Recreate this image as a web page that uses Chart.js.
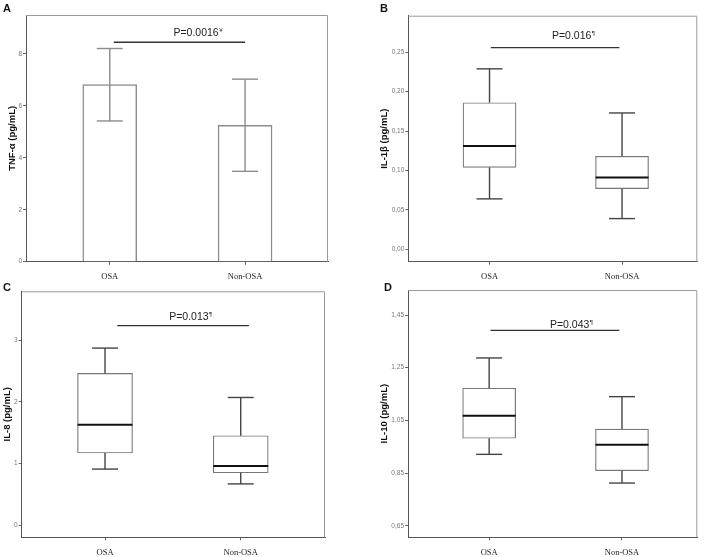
<!DOCTYPE html>
<html>
<head>
<meta charset="utf-8">
<script src="https://cdn.jsdelivr.net/npm/chart.js@4.4.1/dist/chart.umd.min.js"></script>
<style>
  body { margin: 0; background: #fff; }
  #wrap { position: relative; width: 708px; height: 557px; overflow: hidden; background: #fff; }
  #wrap canvas { position: absolute; left: 0; top: 0; }
  .tag { position: absolute; font: bold 11px "Liberation Sans", Arial, sans-serif; color: #111; line-height: 1; }
</style>
</head>
<body>
<div id="wrap">
  <canvas id="chartA" width="708" height="557"></canvas>
  <canvas id="chartB" width="708" height="557"></canvas>
  <canvas id="chartC" width="708" height="557"></canvas>
  <canvas id="chartD" width="708" height="557"></canvas>
  <div class="tag" style="left:3px;top:3px">A</div>
  <div class="tag" style="left:380px;top:3px">B</div>
  <div class="tag" style="left:3px;top:282px">C</div>
  <div class="tag" style="left:384px;top:282px">D</div>
</div>
<script>
// values
const categories = ['OSA', 'Non-OSA'];

// A: TNF-α, bar = mean, whisker = error range
const tnfMean = [6.82, 5.25];
const tnfLow = [5.42, 3.48];
const tnfHigh = [8.21, 7.03];
const tnfTicks = [0, 2, 4, 6, 8];

// B: IL-1β box plot
const il1bMin = [0.064, 0.039];
const il1bQ1 = [0.104, 0.077];
const il1bMedian = [0.131, 0.091];
const il1bQ3 = [0.186, 0.118];
const il1bMax = [0.229, 0.173];
const il1bTicks = [0, 0.05, 0.10, 0.15, 0.20, 0.25];

// C: IL-8 box plot
const il8Min = [0.91, 0.67];
const il8Q1 = [1.17, 0.85];
const il8Median = [1.63, 0.96];
const il8Q3 = [2.46, 1.45];
const il8Max = [2.87, 2.07];
const il8Ticks = [0, 1, 2, 3];

// D: IL-10 box plot
const il10Min = [0.921, 0.812];
const il10Q1 = [0.982, 0.859];
const il10Median = [1.068, 0.957];
const il10Q3 = [1.172, 1.017];
const il10Max = [1.287, 1.140];
const il10Ticks = [0.65, 0.85, 1.05, 1.25, 1.45];

// significance brackets
const pTexts = ['P=0.0016', 'P=0.016', 'P=0.013', 'P=0.043'];
const pMarks = ['¥', '¶', '¶', '¶'];
const pLevels = [8.45, 0.2558, 3.235, 1.392];

const sans = '"Liberation Sans", Arial, sans-serif';
const serif = '"Liberation Serif", "Times New Roman", serif';

function line(ctx, x1, y1, x2, y2) {
  ctx.beginPath();
  ctx.moveTo(x1, y1);
  ctx.lineTo(x2, y2);
  ctx.stroke();
}

// whiskers, medians, frame and the P bracket, all placed through the chart scales
const marksPlugin = {
  id: 'marks',
  afterDatasetsDraw(chart, args, o) {
    const { ctx, chartArea: a, scales: { x, y } } = chart;
    const bars = chart.getDatasetMeta(0).data;
    const cap = 13;
    ctx.save();

    // frame top/right
    ctx.strokeStyle = '#9a9a9a';
    ctx.lineWidth = 1;
    ctx.beginPath();
    ctx.moveTo(a.left, a.top + 0.5);
    ctx.lineTo(a.right - 0.5, a.top + 0.5);
    ctx.lineTo(a.right - 0.5, a.bottom);
    ctx.stroke();

    bars.forEach((bar, i) => {
      const px = bar.x;
      const hw = bar.width / 2;
      if (o.kind === 'bar') {
        const yl = y.getPixelForValue(o.low[i]);
        const yh = y.getPixelForValue(o.high[i]);
        ctx.strokeStyle = '#8c8c8c';
        ctx.lineWidth = 1.4;
        line(ctx, px, yl, px, yh);
        line(ctx, px - cap, yl, px + cap, yl);
        line(ctx, px - cap, yh, px + cap, yh);
      } else {
        const yMin = y.getPixelForValue(o.min[i]);
        const yQ1 = y.getPixelForValue(o.q1[i]);
        const yMed = y.getPixelForValue(o.median[i]);
        const yQ3 = y.getPixelForValue(o.q3[i]);
        const yMax = y.getPixelForValue(o.max[i]);
        ctx.strokeStyle = '#444';
        ctx.lineWidth = 1.4;
        line(ctx, px, yQ3, px, yMax);
        line(ctx, px, yQ1, px, yMin);
        line(ctx, px - cap, yMax, px + cap, yMax);
        line(ctx, px - cap, yMin, px + cap, yMin);
        ctx.strokeStyle = '#111';
        ctx.lineWidth = 2;
        line(ctx, px - hw, yMed, px + hw, yMed);
      }
    });

    // P bracket
    const py = y.getPixelForValue(o.pLevel);
    ctx.strokeStyle = '#333';
    ctx.lineWidth = 1.3;
    line(ctx, x.getPixelForValue(o.pFrom), py, x.getPixelForValue(o.pTo), py);

    ctx.fillStyle = '#222';
    ctx.textBaseline = 'alphabetic';
    ctx.font = '10.5px ' + sans;
    const w1 = ctx.measureText(o.pText).width;
    ctx.font = '6px ' + sans;
    const w2 = ctx.measureText(o.pMark).width;
    const left = x.getPixelForValue(o.pTextAt) - (w1 + w2) / 2;
    ctx.font = '10.5px ' + sans;
    ctx.fillText(o.pText, left, py - o.pGap);
    ctx.font = '6px ' + sans;
    ctx.fillText(o.pMark, left + w1 + 0.5, py - o.pGap - 4);
    ctx.restore();
  }
};

function fmt(v, decimals) {
  return decimals ? v.toFixed(decimals).replace('.', ',') : String(v);
}

function makePanel(p) {
  const isBar = p.kind === 'bar';
  const data = categories.map((c, i) => ({
    x: i,
    y: isBar ? p.mean[i] : [p.q1[i], p.q3[i]]
  }));
  const xAxisH = 19.5;

  new Chart(document.getElementById(p.id), {
    type: 'bar',
    data: {
      datasets: [{
        data: data,
        backgroundColor: '#ffffff',
        borderColor: isBar ? '#8c8c8c' : '#777777',
        borderWidth: isBar ? 1.5 : 1.2,
        borderSkipped: isBar ? 'start' : false,
        barThickness: p.barWidth
      }]
    },
    options: {
      responsive: false,
      animation: false,
      events: [],
      layout: {
        autoPadding: false,
        padding: {
          left: p.area.left - p.yAxisWidth,
          top: p.area.top,
          right: 708 - p.area.right,
          bottom: Math.max(0, 557 - p.area.bottom - xAxisH)
        }
      },
      plugins: {
        legend: { display: false },
        tooltip: { enabled: false },
        marks: {
          kind: p.kind,
          low: p.low, high: p.high,
          min: p.min, q1: p.q1, median: p.median, q3: p.q3, max: p.max,
          pLevel: p.pLevel, pFrom: p.pFrom, pTo: p.pTo,
          pText: p.pText, pMark: p.pMark, pTextAt: p.pTextAt, pGap: p.pGap
        }
      },
      scales: {
        x: {
          type: 'linear',
          min: p.xMin,
          max: p.xMax,
          offset: false,
          afterBuildTicks: s => { s.ticks = categories.map((c, i) => ({ value: i })); },
          afterFit: s => { s.height = xAxisH; },
          ticks: {
            callback: v => categories[v],
            color: '#222',
            font: { family: serif, size: 8.5 },
            padding: 7,
            maxRotation: 0,
            autoSkip: false
          },
          grid: { drawOnChartArea: false, tickLength: 3, color: '#666', offset: false },
          border: { color: '#555' }
        },
        y: {
          min: p.yMin,
          max: p.yMax,
          afterBuildTicks: s => { s.ticks = p.ticks.map(v => ({ value: v })); },
          afterFit: s => { s.width = p.yAxisWidth; },
          ticks: {
            callback: v => fmt(v, p.decimals),
            color: '#777',
            font: { family: sans, size: 6.5 },
            padding: 1,
            autoSkip: false
          },
          grid: { drawOnChartArea: false, tickLength: 3, color: '#666' },
          border: { color: '#555' },
          title: {
            display: true,
            text: p.title,
            color: '#111',
            font: { family: sans, size: 9.5, weight: 'bold' },
            padding: { top: p.titlePad, bottom: 0 }
          }
        }
      }
    },
    plugins: [marksPlugin]
  });
}

makePanel({
  id: 'chartA', kind: 'bar', title: 'TNF-α (pg/mL)',
  mean: tnfMean, low: tnfLow, high: tnfHigh,
  ticks: tnfTicks, decimals: 0, yMin: 0, yMax: 9.5, xMin: -0.619, xMax: 1.613,
  area: { left: 26, top: 15, right: 328, bottom: 261.7 }, yAxisWidth: 26, titlePad: 6.3,
  barWidth: 54,
  pLevel: pLevels[0], pFrom: 0.03, pTo: 1.0, pText: pTexts[0], pMark: pMarks[0], pTextAt: 0.65, pGap: 6
});

makePanel({
  id: 'chartB', kind: 'box', title: 'IL-1β (pg/mL)',
  min: il1bMin, q1: il1bQ1, median: il1bMedian, q3: il1bQ3, max: il1bMax,
  ticks: il1bTicks, decimals: 2, yMin: -0.0157, yMax: 0.2964, xMin: -0.613, xMax: 1.568,
  area: { left: 408.3, top: 15.7, right: 697.3, bottom: 261.7 }, yAxisWidth: 30, titlePad: 0,
  barWidth: 53,
  pLevel: pLevels[1], pFrom: 0.01, pTo: 0.98, pText: pTexts[1], pMark: pMarks[1], pTextAt: 0.632, pGap: 8.4
});

makePanel({
  id: 'chartC', kind: 'box', title: 'IL-8 (pg/mL)',
  min: il8Min, q1: il8Q1, median: il8Median, q3: il8Q3, max: il8Max,
  ticks: il8Ticks, decimals: 0, yMin: -0.195, yMax: 3.79, xMin: -0.614, xMax: 1.621,
  area: { left: 21.7, top: 291.3, right: 325, bottom: 537.3 }, yAxisWidth: 21.7, titlePad: 1.6,
  barWidth: 55,
  pLevel: pLevels[2], pFrom: 0.09, pTo: 1.06, pText: pTexts[2], pMark: pMarks[2], pTextAt: 0.63, pGap: 6
});

makePanel({
  id: 'chartD', kind: 'box', title: 'IL-10 (pg/mL)',
  min: il10Min, q1: il10Q1, median: il10Median, q3: il10Q3, max: il10Max,
  ticks: il10Ticks, decimals: 2, yMin: 0.606, yMax: 1.545, xMin: -0.611, xMax: 1.567,
  area: { left: 408, top: 290, right: 697.3, bottom: 537.3 }, yAxisWidth: 30, titlePad: 0.3,
  barWidth: 53,
  pLevel: pLevels[3], pFrom: 0.01, pTo: 0.98, pText: pTexts[3], pMark: pMarks[3], pTextAt: 0.618, pGap: 2.3
});
</script>
</body>
</html>
